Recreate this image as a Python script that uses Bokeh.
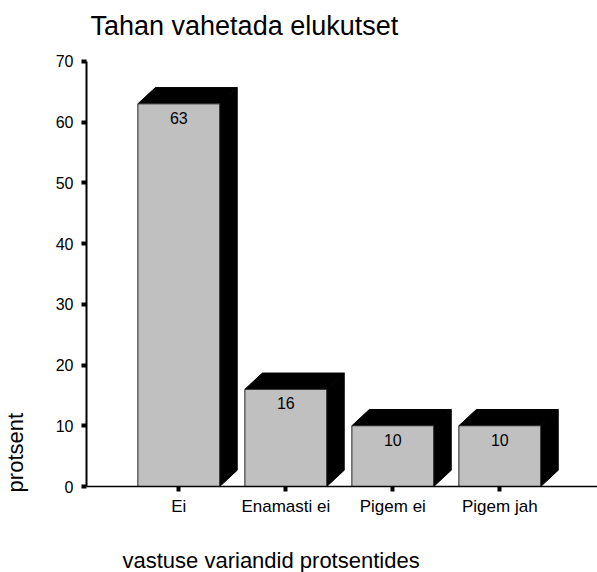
import numpy as np
from bokeh.plotting import figure
from bokeh.layouts import row
from bokeh.models import FixedTicker, Range1d, ColumnDataSource, Title
from bokeh.embed import file_html
from bokeh.resources import INLINE
from bokeh.core.properties import value

# ---- data ----
categories = ["Ei", "Enamasti ei", "Pigem ei", "Pigem jah"]
values = [63, 16, 10, 10]
y_ticks = [0, 10, 20, 30, 40, 50, 60, 70]
title_text = "Tahan vahetada elukutset"
x_title = "vastuse variandid protsentides"
y_title = "protsent"

FONT = "Liberation Sans"

# ---- layout ----
H = 572
WL = 32                      # narrow strip holding the y title
W = 597 - WL
AXIS_X = 86                  # y axis position on the page
BL = AXIS_X - WL
BT, BB, BR = 48, 81, 0
frame_w = W - BL - BR
frame_h = H - BT - BB
px_per_cat = 107.0
px_per_unit = 431.0 / 70.0
x_start = -92.3 / px_per_cat
x_end = x_start + frame_w / px_per_cat
y_start = 0
y_end = frame_h / px_per_unit

p = figure(width=W, height=H, output_backend="svg", toolbar_location=None,
           x_range=Range1d(x_start, x_end), y_range=Range1d(y_start, y_end),
           min_border_left=BL, min_border_top=BT, min_border_bottom=BB,
           min_border_right=BR)
p.title.visible = False
p.outline_line_color = None
p.grid.visible = False
p.background_fill_color = "white"
p.border_fill_color = "white"

# 3D depth in pixels converted to data units
dx = 17.5 / px_per_cat
dy = 16.5 / px_per_unit
bw = 0.765

xc = np.arange(len(categories), dtype=float)
vals = np.array(values, dtype=float)
left = xc - bw / 2
right = xc + bw / 2

xs, ys = [], []
for l, r, v in zip(left, right, vals):
    xs.append([l, l + dx, r + dx, r])
    ys.append([v, v + dy, v + dy, v])
    xs.append([r, r + dx, r + dx, r])
    ys.append([v, v + dy, dy, 0])
p.patches(xs, ys, fill_color="black", line_color="black", line_width=1)

p.quad(left=left, right=right, bottom=0, top=vals,
       fill_color="#c0c0c0", line_color="#222222", line_width=1)

src = ColumnDataSource(dict(x=xc, y=vals, t=[str(v) for v in values]))
p.text(x="x", y="y", text="t", source=src, text_align="center",
       text_baseline="top", y_offset=8, text_font=value(FONT),
       text_font_size="16px", text_color="black")

# ---- axes ----
for ax in (p.xaxis, p.yaxis):
    ax.minor_tick_line_color = None
    ax.major_tick_in = 0
    ax.major_tick_out = 5
    ax.major_tick_line_width = 4
    ax.major_tick_line_color = "black"
    ax.axis_line_color = "black"
    ax.major_label_text_font = FONT
    ax.major_label_text_color = "black"

p.yaxis.ticker = FixedTicker(ticks=y_ticks)
p.yaxis.bounds = (y_ticks[0], y_ticks[-1])
p.yaxis.axis_line_width = 2
p.yaxis.major_label_standoff = 8
p.yaxis.major_label_text_font_size = "16px"

p.xaxis.ticker = FixedTicker(ticks=list(range(len(categories))))
p.xaxis.major_label_overrides = {i: c for i, c in enumerate(categories)}
p.xaxis.axis_line_width = 1.5
p.xaxis.major_label_standoff = 5
p.xaxis.major_label_text_font_size = "17px"

# ---- texts ----
p.add_layout(Title(text=title_text, align="left", offset=4, standoff=17,
                   text_font=FONT, text_font_size="27px", text_font_style="normal",
                   text_color="black"), "above")
# spacer between the category labels and the x title
p.add_layout(Title(text=" ", standoff=14, text_font=FONT, text_font_size="10px",
                   text_color="white"), "below")
p.add_layout(Title(text=x_title, align="left", offset=36, standoff=0,
                   text_font=FONT, text_font_size="22px", text_font_style="normal",
                   text_color="black"), "below")

# narrow strip with the rotated y title (frame aligned with the main plot's frame;
# data y = pixels from the bottom of the page)
pl = figure(width=WL, height=H, output_backend="svg", toolbar_location=None,
            x_range=Range1d(0, WL), y_range=Range1d(BB, H - BT),
            x_axis_type=None, y_axis_type=None,
            min_border=0, min_border_left=0, min_border_right=0,
            min_border_top=BT, min_border_bottom=BB)
pl.title.visible = False
pl.grid.visible = False
pl.outline_line_color = None
pl.border_fill_color = "white"
pl.text(x=[15], y=[H - 497], text=[y_title], angle=np.pi / 2,
        text_align="left", text_baseline="middle", text_font=value(FONT),
        text_font_size="22px", text_color="black", level="overlay")

layout = row(pl, p, spacing=0)
open("out.html", "w").write(file_html(layout, INLINE))
